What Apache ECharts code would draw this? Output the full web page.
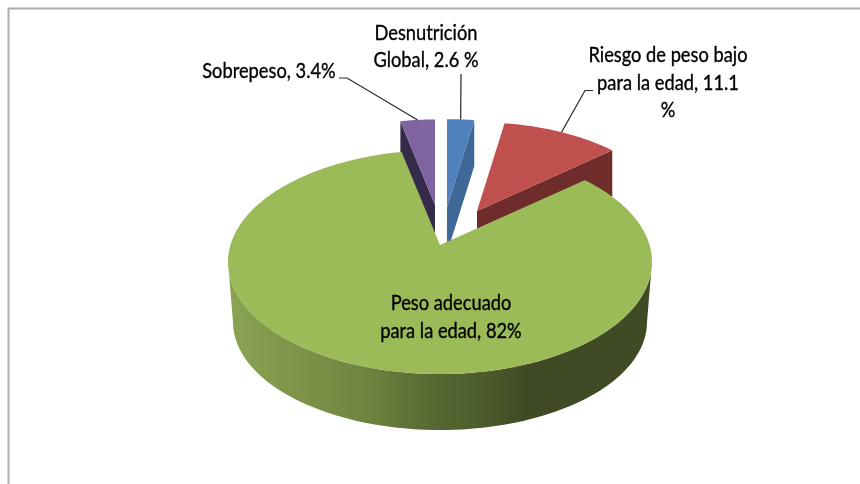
<!DOCTYPE html>
<html>
<head>
<meta charset="utf-8">
<style>
  html, body { margin: 0; padding: 0; background: #fff; }
  #chart { width: 860px; height: 484px; }
</style>
<script src="https://cdn.jsdelivr.net/npm/echarts@6/dist/echarts.min.js"></script>
</head>
<body>
<div id="chart"></div>
<script>
// data
const categories = ['Desnutrición Global', 'Riesgo de peso bajo para la edad', 'Peso adecuado para la edad', 'Sobrepeso']
const values = [2.6, 11.1, 82, 3.4]
const labels = ['Desnutrición\nGlobal, 2.6 %', 'Riesgo de peso bajo\npara la edad, 11.1\n%', 'Peso adecuado\npara la edad, 82%', 'Sobrepeso, 3.4%']

// look of the slices, same order as the data
const topColors = ['#4f81bd', '#c0504d', '#9bbb59', '#8064a2']
const cutColors = ['#3f6797', '#6e2c2b', '#5c7035', '#352b4a']
const apexes = [[447, 207], [477, 211], [440, 245], [435, 205]]
const scales = [0.925, 0.935, 1, 0.9]
const labelPos = [[426, 46.5], [668, 83], [451, 317], [269, 71]]
const leaders = [[[461, 74]], [[593, 90.5], [585, 90.5]], null, [[339, 78], [347, 78]]]

const RX = 212
const RY = 112
const TILT = 0.53
const DROP = 17
const DEPTH = 46

const total = values.reduce((a, b) => a + b, 0)
const starts = values.map((v, i) => values.slice(0, i).reduce((a, b) => a + b, 0) / total * 360)

// where the ray at angle deg leaves the apex and hits the top rim
function rim(i, deg) {
  const t = deg * Math.PI / 180
  const s = scales[i]
  const dx = Math.sin(t) / (RX * s)
  const dy = -TILT * Math.cos(t) / (RY * s)
  const oy = -DROP / RY
  const a = dx * dx + dy * dy
  const b = 2 * oy * dy
  const c = oy * oy - 1
  const k = (-b + Math.sqrt(b * b - 4 * a * c)) / (2 * a)
  return [apexes[i][0] + k * Math.sin(t), apexes[i][1] - k * TILT * Math.cos(t)]
}

function cutFace(i, deg) {
  const p = rim(i, deg)
  const a = apexes[i]
  return {
    type: 'polygon',
    shape: { points: [a, p, [p[0], p[1] + DEPTH], [a[0], a[1] + DEPTH]] },
    style: { fill: cutColors[i] }
  }
}

function outerWall(i) {
  const a = apexes[i]
  const cy = a[1] + DROP
  const upper = []
  const lower = []
  for (let d = 90; d <= 270; d += 2) {
    const t = d * Math.PI / 180
    upper.push([a[0] + RX * Math.sin(t), cy - RY * Math.cos(t)])
    lower.unshift([a[0] + 207 * Math.sin(t), cy + 60 - 108 * Math.cos(t)])
  }
  return {
    type: 'polygon',
    shape: { points: upper.concat(lower) },
    style: {
      fill: new echarts.graphic.LinearGradient(0, 0, 1, 0, [
        { offset: 0, color: '#8ba453' },
        { offset: 0.17, color: '#7d9349' },
        { offset: 0.33, color: '#6f843f' },
        { offset: 0.47, color: '#586a33' },
        { offset: 0.64, color: '#48562a' },
        { offset: 0.7, color: '#404a24' },
        { offset: 1, color: '#404a24' }
      ])
    }
  }
}

function renderSlice(i, api) {
  const start = starts[i]
  const end = start + api.value(0) / total * 360
  const children = []

  if (end > 90 && start < 270) children.push(outerWall(i))
  if (end < 180) children.push(cutFace(i, end))
  if (start > 180) children.push(cutFace(i, start))

  const points = [apexes[i]]
  for (let d = start; d < end; d += 1) points.push(rim(i, d))
  points.push(rim(i, end))
  children.push({ type: 'polygon', shape: { points: points }, style: { fill: topColors[i] } })

  if (leaders[i]) {
    children.push({
      type: 'polyline',
      shape: { points: leaders[i].concat([rim(i, (start + end) / 2)]) },
      style: { stroke: '#262626', lineWidth: 1.2, fill: null }
    })
  }

  // the font in the picture is a tall narrow one, so Lato gets squeezed
  children.push({
    type: 'text',
    x: labelPos[i][0],
    y: labelPos[i][1],
    scaleX: 0.87,
    style: {
      text: labels[i],
      fill: '#000',
      stroke: '#000',
      lineWidth: 0.35,
      font: '21px Lato, sans-serif',
      lineHeight: 27.5,
      align: 'center',
      verticalAlign: 'middle'
    }
  })
  return { type: 'group', children: children }
}

// green goes last, it covers the feet of the other slices
const drawOrder = [0, 1, 3, 2]

const chart = echarts.init(document.getElementById('chart'))
chart.setOption({
  animation: false,
  backgroundColor: '#fff',
  graphic: [
    { type: 'line', shape: { x1: 8, y1: 8.5, x2: 860, y2: 8.5 }, style: { stroke: '#adadad', lineWidth: 2 } },
    { type: 'line', shape: { x1: 8.5, y1: 8, x2: 8.5, y2: 484 }, style: { stroke: '#adadad', lineWidth: 2 } }
  ],
  series: drawOrder.map(i => ({
    type: 'custom',
    name: categories[i],
    coordinateSystem: 'none',
    silent: true,
    data: [values[i]],
    renderItem: (params, api) => renderSlice(i, api)
  }))
})
</script>
</body>
</html>
